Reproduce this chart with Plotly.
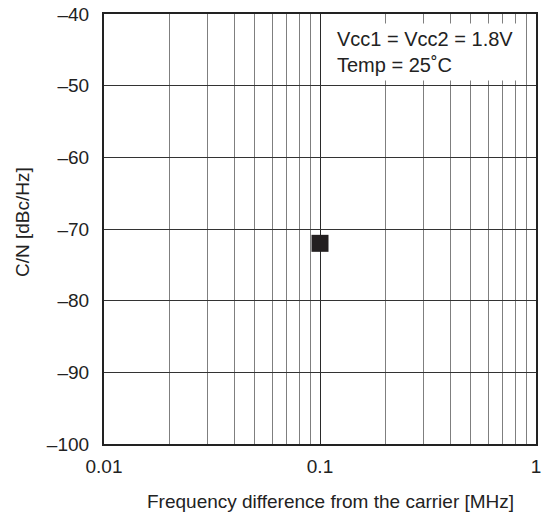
import plotly.graph_objects as go

freq_mhz = [0.1]
cn_dbc = [-72]

y_ticks = [-100, -90, -80, -70, -60, -50, -40]
y_ticktext = ["\u2013100", "\u201390", "\u201380", "\u201370", "\u201360", "\u201350", "\u201340"]
x_ticks = [0.01, 0.1, 1]
x_ticktext = ["0.01", "0.1", "1"]
x_minor = [0.02, 0.03, 0.04, 0.05, 0.06, 0.07, 0.08, 0.09,
           0.2, 0.3, 0.4, 0.5, 0.6, 0.7, 0.8, 0.9]

font_fam = "Liberation Sans, Arial, sans-serif"
txt = "#222222"

L, R, T, B = 104, 9, 14, 77
W, H = 545, 521
pw = W - L - R
ph = H - T - B

fig = go.Figure()
fig.add_trace(go.Scatter(
    x=freq_mhz, y=cn_dbc, mode="markers",
    marker=dict(symbol="square", size=17, color="#231f20",
                line=dict(color="#231f20", width=0)),
    showlegend=False, hoverinfo="skip",
))

fig.update_layout(
    width=W, height=H,
    margin=dict(l=L, r=R, t=T, b=B),
    paper_bgcolor="white", plot_bgcolor="white",
    font=dict(family=font_fam, size=19, color=txt),
    xaxis=dict(
        type="log", range=[-2, 0],
        tickvals=x_ticks, ticktext=x_ticktext,
        showgrid=True, gridcolor="#2a2a2a", gridwidth=1.3,
        minor=dict(tickvals=x_minor, showgrid=True, gridcolor="#7f7f7f",
                   gridwidth=1.3, ticks=""),
        showline=True, linecolor="#222222", linewidth=2.2, mirror=True,
        ticks="", zeroline=False, automargin=False,
        ticklabelstandoff=4,
        tickfont=dict(size=19),
    ),
    yaxis=dict(
        range=[-100, -40],
        tickvals=y_ticks, ticktext=y_ticktext,
        showgrid=True, gridcolor="#333333", gridwidth=1.3,
        showline=True, linecolor="#222222", linewidth=2.2, mirror=True,
        ticks="", zeroline=False, automargin=False,
        ticklabelstandoff=9,
        tickfont=dict(size=19),
    ),
    annotations=[
        dict(
            xref="paper", yref="paper",
            x=(332 - L) / pw, y=1 - (23 - T) / ph,
            xanchor="left", yanchor="top",
            text="Vcc1 = Vcc2 = 1.8V<br>Temp = 25\u02daC",
            showarrow=False, align="left",
            bgcolor="white", borderpad=4,
            font=dict(size=20, color=txt, family=font_fam),
        ),
        dict(
            xref="paper", yref="paper",
            x=(330 - L) / pw, y=-(502 - T - ph) / ph,
            xanchor="center", yanchor="middle",
            text="Frequency difference from the carrier [MHz]",
            showarrow=False,
            font=dict(size=19, color=txt, family=font_fam),
        ),
        dict(
            xref="paper", yref="paper",
            x=-(L - 22) / pw, y=1 - (222 - T) / ph,
            xanchor="center", yanchor="middle",
            text="C/N [dBc/Hz]", textangle=-90,
            showarrow=False,
            font=dict(size=19, color=txt, family=font_fam),
        ),
    ],
)

fig.write_html(
    "out.html",
    config={"displayModeBar": False},
    post_script="document.body.style.margin='0';document.body.style.padding='0';",
)
